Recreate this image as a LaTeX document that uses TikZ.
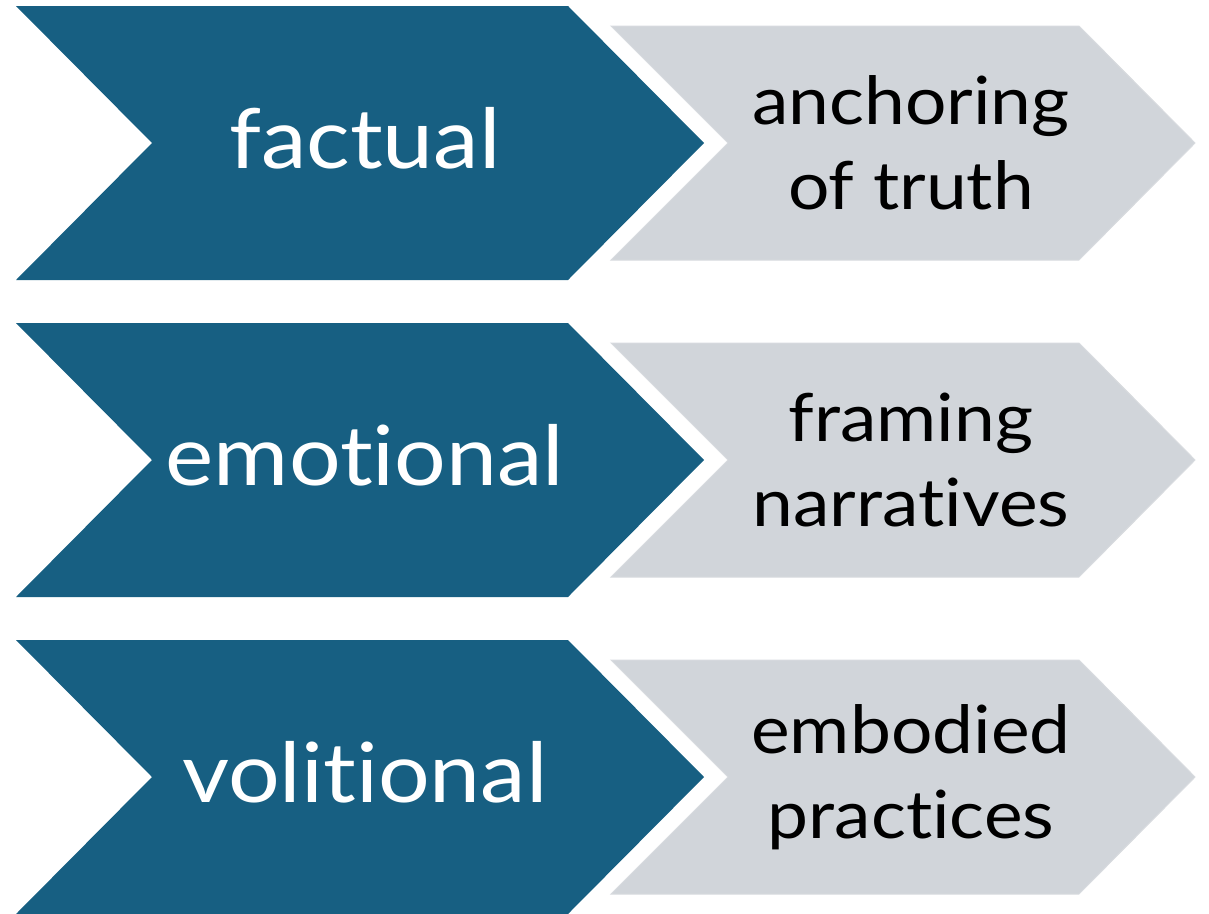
\documentclass[tikz,border=0pt]{standalone}
\usepackage{fontspec}
\setmainfont[Ligatures=NoCommon,FakeStretch=1.1]{Lato}
\definecolor{chevblue}{HTML}{175F82}
\definecolor{chevgrey}{HTML}{D1D5DA}
\definecolor{greyedge}{HTML}{D8DBDF}
\tikzset{
  bluechev/.style={fill=chevblue},
  greychev/.style={fill=chevgrey, draw=greyedge, line width=1pt},
  bluetext/.style={text=white, font=\fontsize{83}{96}\selectfont, inner sep=0pt, anchor=base},
  greytext/.style={text=black, font=\fontsize{66.5}{85}\selectfont, align=center, inner sep=0pt},
}
\begin{document}
\begin{tikzpicture}[x=1pt,y=-1pt]
\useasboundingbox (0,0) rectangle (1209,913);
\foreach \cy/\btxt/\gtxt/\n in {143/factual/{anchoring\\of truth}/1, 460/emotional/{framing\\narratives}/2, 777/volitional/{embodied\\practices}/3}{
  \fill[bluechev] (16,\cy-137) -- (568,\cy-137) -- (704,\cy) -- (568,\cy+137) -- (16,\cy+137) -- (152,\cy) -- cycle;
  \filldraw[greychev] (611,\cy-117) -- (1079,\cy-117) -- (1195,\cy) -- (1079,\cy+117) -- (611,\cy+117) -- (728,\cy) -- cycle;
  \node[bluetext] (b\n) at (365,\cy+25) {\btxt};
  \node[greytext] (g\n) at (911,\cy) {\gtxt};
}
\end{tikzpicture}
\end{document}
